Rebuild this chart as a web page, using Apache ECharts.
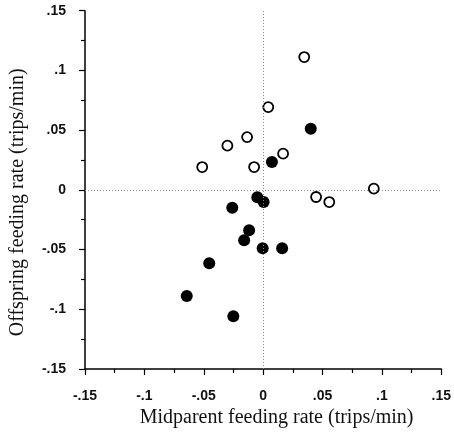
<!DOCTYPE html>
<html><head><meta charset="utf-8">
<script src="https://cdn.jsdelivr.net/npm/echarts@6/dist/echarts.min.js"></script>
<style>html,body{margin:0;padding:0;background:#fff}#c{width:454px;height:433px}</style>
</head><body><div id="c"></div>
<script>
// Open circles: [midparent, offspring]
var openX = [0.0346, 0.0043, -0.0135, -0.0301, 0.0168, -0.0513, -0.0076, 0.0932, 0.0446, 0.0557];
var openY = [0.1112, 0.0693, 0.0442, 0.0370, 0.0303, 0.0191, 0.0191, 0.0010, -0.0060, -0.0102];
// Filled circles
var filledX = [0.0401, 0.0074, -0.0049, 0.0004, -0.0260, -0.0118, -0.0160, -0.0004, 0.0160, -0.0454, -0.0643, -0.0251];
var filledY = [0.0512, 0.0233, -0.0062, -0.0102, -0.0149, -0.0339, -0.0422, -0.0489, -0.0489, -0.0615, -0.0888, -0.1058];
var tickValues = [-0.15, -0.1, -0.05, 0, 0.05, 0.1, 0.15];
var xTitle = 'Midparent feeding rate (trips/min)';
var yTitle = 'Offspring feeding rate (trips/min)';

function fmt(v) {
  var r = Math.round(v * 100) / 100;
  if (r === 0) return '0';
  var s = String(Math.abs(r)).replace(/^0/, '');
  return (r < 0 ? '-' : '') + s;
}
function zip(a, b) { return a.map(function (v, i) { return [v, b[i]]; }); }

var axisCommon = {
  type: 'value', min: tickValues[0], max: tickValues[tickValues.length - 1], interval: 0.05,
  axisLine: { show: true, onZero: false, lineStyle: { color: '#000', width: 1.5 } },
  axisTick: { show: true, inside: false, length: 6, lineStyle: { color: '#000', width: 1.2 } },
  minorTick: { show: true, splitNumber: 2, length: 4, lineStyle: { color: '#000', width: 1.2 } },
  splitLine: { show: false },
  axisLabel: { color: '#111', fontFamily: 'Liberation Sans', fontSize: 14, fontWeight: 'bold', formatter: fmt },
  nameLocation: 'middle',
  nameTextStyle: { color: '#111', fontFamily: 'Liberation Serif', fontSize: 20 }
};

var chart = echarts.init(document.getElementById('c'));
chart.setOption({
  animation: false,
  grid: { left: 82.5, right: 11.5, top: 10.7, bottom: 63.7 },
  xAxis: Object.assign({}, axisCommon, {
    name: xTitle, nameGap: 39,
    axisLabel: Object.assign({}, axisCommon.axisLabel, { margin: 20 }),
    nameTextStyle: Object.assign({}, axisCommon.nameTextStyle, { padding: [0, 0, 0, 27] })
  }),
  yAxis: Object.assign({}, axisCommon, {
    name: yTitle, nameGap: 57,
    axisLabel: Object.assign({}, axisCommon.axisLabel, { margin: 19 }),
    nameTextStyle: Object.assign({}, axisCommon.nameTextStyle, { padding: [0, 25, 0, 0] })
  }),
  series: [
    {
      type: 'scatter', data: [], silent: true,
      markLine: {
        silent: true, symbol: 'none', label: { show: false },
        lineStyle: { color: '#888', type: [1, 2], width: 1 },
        data: [{ xAxis: 0 }, { yAxis: 0 }]
      }
    },
    {
      type: 'scatter', data: zip(openX, openY), symbol: 'circle', symbolSize: 10,
      itemStyle: { color: '#fff', borderColor: '#000', borderWidth: 1.8, opacity: 1 }
    },
    {
      type: 'scatter', data: zip(filledX, filledY), symbol: 'circle', symbolSize: 12,
      itemStyle: { color: '#000', opacity: 1 }
    }
  ]
});
</script></body></html>
